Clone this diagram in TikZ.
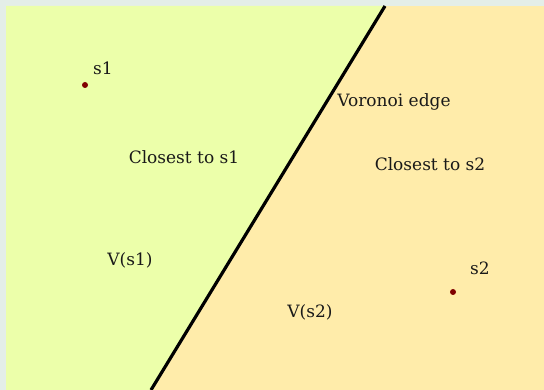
\documentclass[tikz,border=0pt]{standalone}
\usepackage{fontspec}
\setmainfont{DejaVu Serif}
\definecolor{frameC}{RGB}{228,238,232}
\definecolor{greenC}{RGB}{236,255,170}
\definecolor{orangeC}{RGB}{255,236,170}
\definecolor{siteC}{RGB}{128,0,0}
\tikzset{
  lbl/.style={font=\fontsize{17}{20}\selectfont, text=black!90, inner sep=0pt},
  site/.style={circle, fill=siteC, minimum size=6pt, inner sep=0pt},
}
\begin{document}
\begin{tikzpicture}[x=1pt,y=-1pt]
\useasboundingbox (0,0) rectangle (544,390);
\fill[frameC] (0,0) rectangle (544,390);
\fill[orangeC] (6,6) rectangle (544,390);
\coordinate (etop) at (385,6);
\coordinate (ebot) at (151,390);
\fill[greenC] (6,6) -- (etop) -- (ebot) -- (6,390) -- cycle;
\draw[line width=3.2pt] (etop) -- (ebot);
\node[site] (s1) at (85,85) {};
\node[site] (s2) at (453,292) {};
\node[lbl] (s1l) at (103,68) {s1};
\node[lbl] (s2l) at (480,268) {s2};
\node[lbl] (ve) at (394,102) {Voronoi edge};
\node[lbl] (c1) at (184,157) {Closest to s1};
\node[lbl] (c2) at (430,164) {Closest to s2};
\node[lbl] (v1) at (130,260) {V(s1)};
\node[lbl] (v2) at (310,312) {V(s2)};
\end{tikzpicture}
\end{document}
